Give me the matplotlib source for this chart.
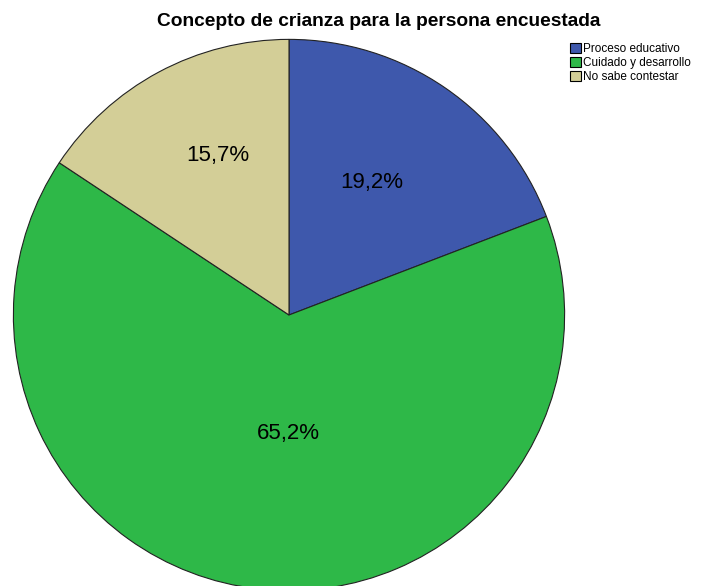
import matplotlib.pyplot as plt
from matplotlib.patches import Patch

categorias = ['Proceso educativo', 'Cuidado y desarrollo', 'No sabe contestar']
porcentajes = [19.2, 65.2, 15.7]
colores = ['#3e58ac', '#2eb848', '#d3ce97']

W, H = 705, 586
fig = plt.figure(figsize=(W / 100, H / 100), dpi=100)

# pie box in pixels: x 12..566, y 38..592 (top-down)
ax = fig.add_axes([12 / W, (H - 592) / H, 554 / W, 554 / H])
wedges, _ = ax.pie(porcentajes, colors=colores, startangle=90, counterclock=False,
                   radius=1.0, wedgeprops=dict(edgecolor='#222222', linewidth=0.8))
ax.set_xlim(-1.005, 1.005)
ax.set_ylim(-1.005, 1.005)
ax.set_aspect('equal')
ax.axis('off')

# label spots (data coords)
spots = [(0.30, 0.48), (-0.004, -0.43), (-0.26, 0.58)]
for (x, y), p in zip(spots, porcentajes):
    ax.text(x, y, f'{p:.1f}%'.replace('.', ','), ha='center', va='center',
            fontsize=16, color='black', family='Liberation Sans')

fig.text(379 / W, 1 - 22 / H, 'Concepto de crianza para la persona encuestada',
         ha='center', va='center', fontsize=13.8, fontweight='bold', family='Liberation Sans')

handles = [Patch(facecolor=c, edgecolor='black', linewidth=0.8) for c in colores]
fig.legend(handles, categorias, loc='upper left', bbox_to_anchor=(562 / W, 1 - 35 / H),
           frameon=False, handlelength=0.9, handleheight=0.9,
           handletextpad=0.2, labelspacing=0.15, borderpad=0.2,
           prop={'family': 'Liberation Sans', 'size': 8.5})

fig.savefig('out.png', dpi=100)
